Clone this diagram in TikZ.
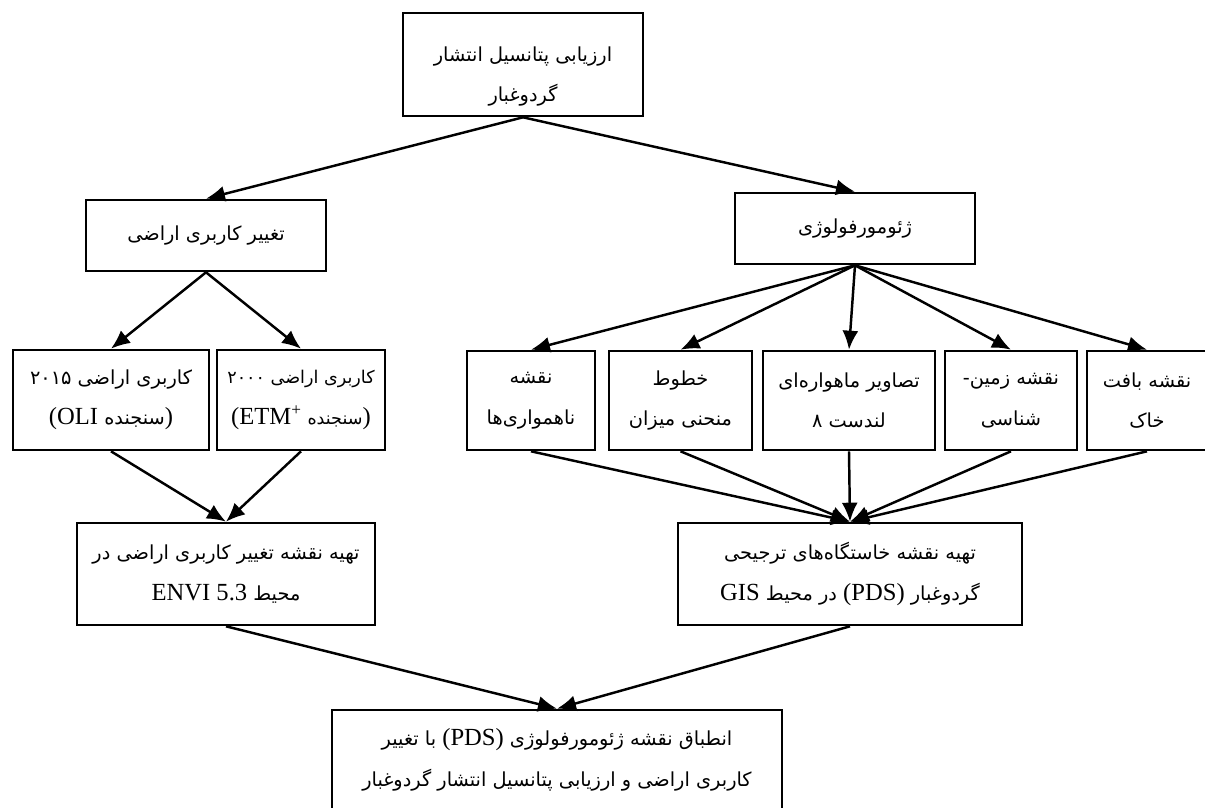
\documentclass[tikz,border=0pt]{standalone}
\usepackage{fontspec}
\setmainfont{Liberation Serif}
\newfontfamily\farsi[Script=Arabic]{DejaVu Sans}
\TeXXeTstate=1
\usetikzlibrary{arrows.meta}
\newcommand{\faline}[1]{\beginR #1\endR}
\newcommand{\enword}[1]{\beginL{\rmfamily\fontsize{14}{23}\selectfont #1}\endL}

\begin{document}
\begin{tikzpicture}[x=0.02cm,y=-0.02cm,box/.style={draw, line width=1.5pt, align=center, inner sep=2pt, font=\farsi\fontsize{11}{23}\selectfont},arr/.style={-{Latex[length=3.8mm,width=3.2mm]}, line width=1.4pt}]
  \useasboundingbox (0,0) rectangle (1205,808);

  \node[box, minimum width=4.8cm, minimum height=2.06cm] (top) at (523,64.5) {\faline{\rule{0pt}{22pt}ارزیابی پتانسیل انتشار}\\\faline{گردوغبار}};

  \node[box, minimum width=4.8cm, minimum height=1.42cm] (luc) at (206,235.5) {\faline{تغییر کاربری اراضی}};
  \node[box, minimum width=4.8cm, minimum height=1.42cm] (geo) at (855,228.5) {\faline{ژئومورفولوژی}};

  \node[box, minimum width=3.92cm, minimum height=2cm] (lu15) at (111,400) {\faline{کاربری اراضی ۲۰۱۵}\\\faline{\enword{)}سنجنده \enword{(OLI}}};
  \node[box, minimum width=3.36cm, minimum height=2cm, font=\farsi\fontsize{10}{23}\selectfont] (lu00) at (301,400) {\faline{کاربری اراضی ۲۰۰۰}\\\faline{\enword{)}سنجنده \enword{(ETM\textsuperscript{+}}}};

  \node[box, minimum width=2.56cm, minimum height=1.98cm] (relief) at (531,400.5) {\faline{نقشه}\\\faline{ناهمواری‌ها}};
  \node[box, minimum width=2.86cm, minimum height=1.98cm] (contour) at (680.5,400.5) {\faline{خطوط}\\\faline{منحنی میزان}};
  \node[box, minimum width=3.44cm, minimum height=1.98cm] (landsat) at (849,400.5) {\faline{تصاویر ماهواره‌ای}\\\faline{لندست ۸}};
  \node[box, minimum width=2.64cm, minimum height=1.98cm] (geol) at (1011,400.5) {\faline{نقشه زمین\mbox{-}}\\\faline{شناسی}};
  \node[box, minimum width=2.4cm, minimum height=1.98cm] (soil) at (1147,400.5) {\faline{نقشه بافت}\\\faline{خاک}};

  \node[box, minimum width=5.96cm, minimum height=2.04cm] (lucmap) at (226,574) {\faline{تهیه نقشه تغییر کاربری اراضی  در}\\\faline{محیط \enword{ENVI 5.3}}};
  \node[box, minimum width=6.88cm, minimum height=2.04cm] (pdsmap) at (850,574) {\faline{تهیه نقشه خاستگاه‌های ترجیحی}\\\faline{گردوغبار \enword{(PDS)} در محیط \enword{GIS}}};

  \node[box, minimum width=9cm, minimum height=2cm] (final) at (557,760) {\faline{انطباق نقشه ژئومورفولوژی \enword{(PDS)} با تغییر}\\\faline{کاربری اراضی و ارزیابی پتانسیل انتشار گردوغبار}};

  \draw[arr] (top.south) -- (luc.north);
  \draw[arr] (top.south) -- (geo.north);
  \draw[arr] (luc.south) -- (lu15.north);
  \draw[arr] (luc.south) -- (lu00.north);
  \foreach \n in {relief,contour,landsat,geol,soil}
    \draw[arr] (geo.south) -- (\n.north);
  \foreach \n in {relief,contour,landsat,geol,soil}
    \draw[arr] (\n.south) -- (pdsmap.north);
  \draw[arr] (lu15.south) -- (lucmap.north);
  \draw[arr] (lu00.south) -- (lucmap.north);
  \draw[arr] (lucmap.south) -- (final.north);
  \draw[arr] (pdsmap.south) -- (final.north);
\end{tikzpicture}
\end{document}
